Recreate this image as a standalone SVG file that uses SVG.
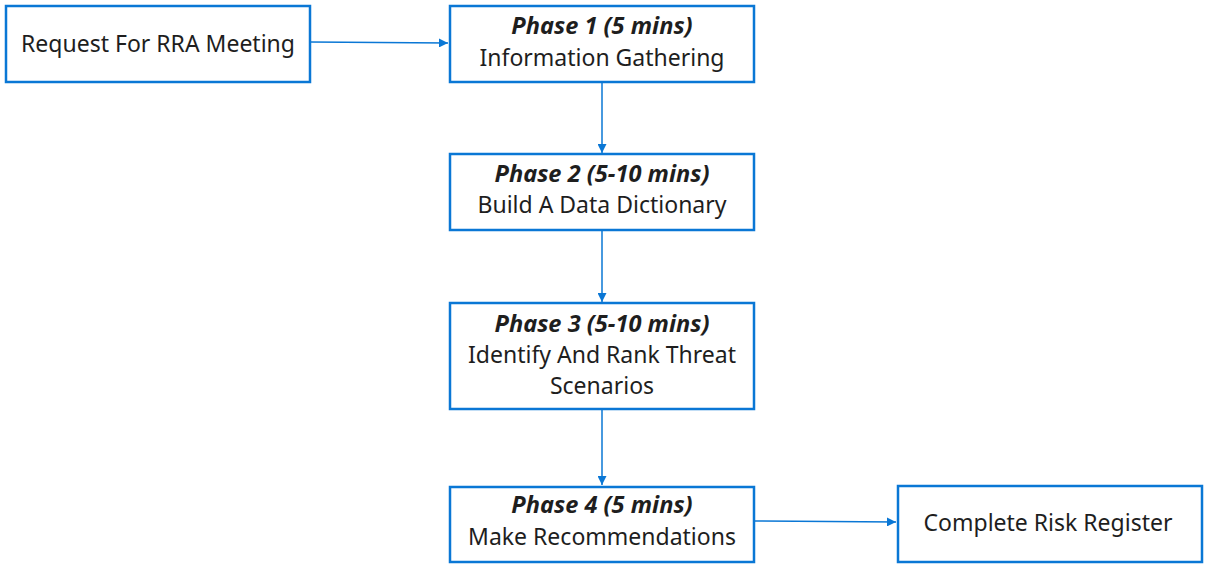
<svg xmlns="http://www.w3.org/2000/svg" width="1208" height="569" viewBox="0 0 1208 569">
<defs>
<style>
.box{fill:#fff;stroke:#0a77d5;stroke-width:2.5}
.t{font-family:"Noto Sans","Liberation Sans",sans-serif;font-size:23px;fill:#1e1e1e;text-anchor:middle}
.b{font-weight:bold;font-style:italic;font-size:23.6px}
.c{fill:none;stroke:#0a77d5;stroke-width:1.5}
</style>
<marker id="ah" viewBox="0 0 10 10" refX="10" refY="5" markerWidth="9" markerHeight="9" markerUnits="userSpaceOnUse" orient="auto"><path d="M0,0L10,5L0,10z" fill="#0a77d5"/></marker>
</defs>
<rect width="1208" height="569" fill="#fff"/>
<g id="connectors">
<path class="c" d="M310,42L448,43" marker-end="url(#ah)"/>
<path class="c" d="M602,82L602,153" marker-end="url(#ah)"/>
<path class="c" d="M602,230L602,302" marker-end="url(#ah)"/>
<path class="c" d="M602,409L602,485" marker-end="url(#ah)"/>
<path class="c" d="M754,521L896,522" marker-end="url(#ah)"/>
</g>
<g id="request">
<rect class="box" x="6" y="6" width="304" height="76"/>
<text class="t" x="158" y="52">Request For RRA Meeting</text>
</g>
<g id="phase1">
<rect class="box" x="450" y="6" width="304" height="76"/>
<text class="t b" x="602" y="34">Phase 1 (5 mins)</text>
<text class="t" x="602" y="66">Information Gathering</text>
</g>
<g id="phase2">
<rect class="box" x="450" y="154" width="304" height="76"/>
<text class="t b" x="602" y="182">Phase 2 (5-10 mins)</text>
<text class="t" x="602" y="213">Build A Data Dictionary</text>
</g>
<g id="phase3">
<rect class="box" x="450" y="303" width="304" height="106"/>
<text class="t b" x="602" y="332">Phase 3 (5-10 mins)</text>
<text class="t" x="602" y="363">Identify And Rank Threat</text>
<text class="t" x="602" y="394">Scenarios</text>
</g>
<g id="phase4">
<rect class="box" x="450" y="487" width="304" height="75"/>
<text class="t b" x="602" y="513">Phase 4 (5 mins)</text>
<text class="t" x="602" y="545">Make Recommendations</text>
</g>
<g id="complete">
<rect class="box" x="898" y="486" width="304" height="76"/>
<text class="t" x="1048" y="531">Complete Risk Register</text>
</g>
</svg>
